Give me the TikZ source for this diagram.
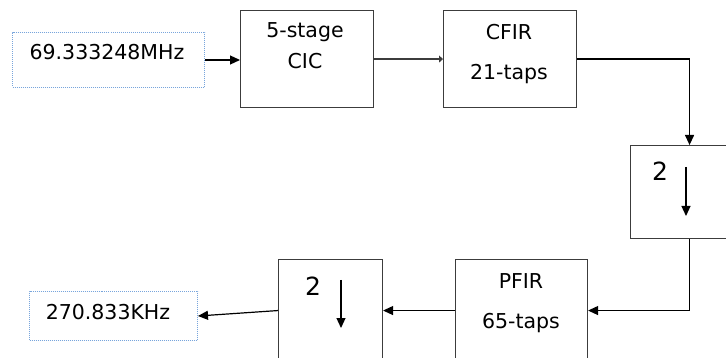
\documentclass[tikz,border=0pt]{standalone}
\usepackage{fontspec}
\setmainfont{DejaVu Sans}
\usetikzlibrary{arrows.meta}
\definecolor{lineg}{RGB}{60,60,60}
\definecolor{dotblue}{RGB}{120,165,220}
\tikzset{
  blk/.style={draw=lineg, line width=1.1pt, anchor=north west, inner sep=0pt},
  inbox/.style={draw=dotblue, line width=1pt, dash pattern=on 1pt off 1pt, anchor=north west, inner sep=0pt},
  txt/.style={font=\fontsize{20.5}{24}\selectfont, inner sep=0pt, text=black},
  big/.style={font=\fontsize{25}{29}\selectfont, inner sep=0pt, text=black},
  arr/.style={draw=black, line width=1.2pt, -{Triangle[length=10pt,width=9pt]}},
}
\begin{document}
\begin{tikzpicture}[x=1pt,y=-1pt]
\useasboundingbox[fill=white] (0,0) rectangle (726,358);
% boxes
\node[inbox, minimum width=192pt, minimum height=55pt] (in) at (12,32) {};
\node[blk, minimum width=133pt, minimum height=97pt] (cic) at (240,10) {};
\node[blk, minimum width=133pt, minimum height=97pt] (cfir) at (443,10) {};
\node[blk, minimum width=118pt, minimum height=93pt] (ds1) at (630,145) {};
\node[blk, minimum width=132pt, minimum height=102pt] (pfir) at (455,259) {};
\node[blk, minimum width=104pt, minimum height=102pt] (ds2) at (278,259) {};
\node[inbox, minimum width=168pt, minimum height=49pt] (out) at (29,291) {};
% texts
\node[txt] (tin) at (107,52) {69.333248MHz};
\node[txt] (t1) at (305,32) {5-stage};
\node[txt] (t2) at (305,61) {CIC};
\node[txt] (t3) at (509,32) {CFIR};
\node[txt] (t4) at (509,74) {21-taps};
\node[txt] (t5) at (521,281) {PFIR};
\node[txt] (t6) at (521,323) {65-taps};
\node[txt] (tout) at (108,312) {270.833KHz};
\node[big] (d1) at (660,171) {2};
\node[big] (d2) at (313,286) {2};
% inner arrows
\coordinate (a1s) at (686,167);
\coordinate (a1e) at (686,216);
\coordinate (a2s) at (341,280);
\coordinate (a2e) at (341,328);
\draw[arr] (a1s) -- (a1e);
\draw[arr] (a2s) -- (a2e);
% connectors
\draw[arr] (in.east) -- (in.east -| cic.west);
\draw[draw=lineg, line width=1.2pt, -{Triangle[length=4pt,width=7pt]}] (cic.east) -- (cfir.west);
\draw[arr] (cfir.east) -| (ds1.north);
\draw[arr] (ds1.south) |- (pfir.east);
\draw[arr] (pfir.west) -- (ds2.east);
\draw[arr] (ds2.west) -- (out.east);
\end{tikzpicture}
\end{document}
